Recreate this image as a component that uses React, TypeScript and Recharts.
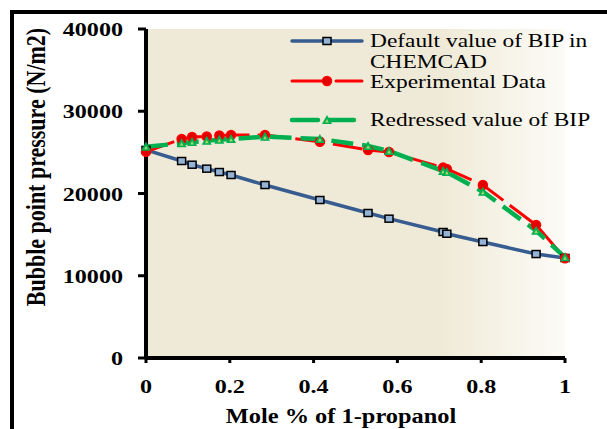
import React from "react";
import { ComposedChart, Line, XAxis, YAxis, CartesianGrid } from "recharts";

// mole fraction of 1-propanol
const molePct = [0, 0.085, 0.11, 0.145, 0.175, 0.203, 0.284, 0.415, 0.53, 0.58, 0.709, 0.718, 0.804, 0.931, 1.0];
// bubble point pressure (N/m2)
const defaultBip = [25300, 23950, 23500, 23020, 22610, 22250, 21030, 19210, 17630, 16940, 15320, 15110, 14100, 12640, 12160];
const experimental = [25080, 26630, 26870, 26930, 27050, 27110, 27110, 26300, 25290, 25050, 23150, 22980, 21030, 16170, 12120];
const redressedBip = [25690, 26100, 26260, 26420, 26540, 26630, 26910, 26630, 25780, 25170, 22740, 22600, 20220, 15480, 12240];

const xTicks = [0, 0.2, 0.4, 0.6, 0.8, 1];
const yTicks = [0, 10000, 20000, 30000, 40000];

const data = molePct.map((x, i) => ({
  x,
  def: defaultBip[i],
  exp: experimental[i],
  red: redressedBip[i],
}));

const FONT = "'Liberation Serif', 'Times New Roman', serif";
const SX = 1.27;

const BLUE = "#365C90";
const RED = "#FF0000";
const GREEN = "#00B050";

const Square = ({ cx, cy }: any) =>
  cx == null ? null : (
    <rect x={cx - 4} y={cy - 3.5} width={8} height={7} fill="#95B3D7" stroke="#000" strokeWidth={1.5} />
  );

const Circle = ({ cx, cy }: any) =>
  cx == null ? null : <circle cx={cx} cy={cy} r={4.5} fill="#E00000" stroke={RED} strokeWidth={1.5} />;

const Tri = ({ cx, cy }: any) =>
  cx == null ? null : (
    <g>
      <polygon points={`${cx},${cy - 5} ${cx + 5},${cy + 4} ${cx - 5},${cy + 4}`} fill={GREEN} />
      <polygon points={`${cx},${cy - 1} ${cx + 1.8},${cy + 2.5} ${cx - 1.8},${cy + 2.5}`} fill="#A6D96A" />
    </g>
  );

const YTick = ({ x, y, payload }: any) => (
  <text
    transform={`translate(${x},${y + 7}) scale(${SX},1)`}
    textAnchor="end"
    fontFamily={FONT}
    fontWeight="bold"
    fontSize={19}
    fill="#000"
  >
    {payload.value}
  </text>
);

const XTick = ({ x, y, payload }: any) => (
  <text
    transform={`translate(${x},${y + 22}) scale(${SX},1)`}
    textAnchor="middle"
    fontFamily={FONT}
    fontWeight="bold"
    fontSize={19}
    fill="#000"
  >
    {payload.value}
  </text>
);

const legendItems = [
  { label: ["Default value of BIP in", "CHEMCAD"], color: BLUE, dash: undefined, width: 3.5, marker: "square", y: 41, ty: 47 },
  { label: ["Experimental Data"], color: RED, dash: "35 9", width: 3, marker: "circle", y: 81, ty: 88 },
  { label: ["Redressed value of BIP"], color: GREEN, dash: "26 10", width: 4.5, marker: "tri", y: 120, ty: 126 },
];

function Overlay() {
  return (
    <svg width={607} height={429} style={{ position: "absolute", left: 0, top: 0, pointerEvents: "none" }}>
      <path d="M12,429 L12,12 L607,12" fill="none" stroke="#000" strokeWidth={4} />
      <text
        transform={`translate(45,167) rotate(-90) scale(1,${SX})`}
        textAnchor="middle"
        fontFamily={FONT}
        fontWeight="bold"
        fontSize={22}
        fill="#000"
      >
        Bubble point pressure (N/m2)
      </text>
      <text
        transform={`translate(341,423) scale(1.22,1)`}
        textAnchor="middle"
        fontFamily={FONT}
        fontWeight="bold"
        fontSize={20}
        fill="#000"
      >
        Mole % of 1-propanol
      </text>
      {legendItems.map((it) => (
        <g key={it.label[0]}>
          <line x1={292} x2={362} y1={it.y} y2={it.y} stroke={it.color} strokeWidth={it.width} strokeDasharray={it.dash} strokeLinecap="round" />
          {it.marker === "square" && <Square cx={327} cy={it.y} />}
          {it.marker === "circle" && <Circle cx={327} cy={it.y} />}
          {it.marker === "tri" && <Tri cx={327} cy={it.y} />}
          {it.label.map((l, i) => (
            <text
              key={l}
              transform={`translate(370,${it.ty + i * 21}) scale(1.3,1)`}
              fontFamily={FONT}
              fontSize={18}
              fill="#000"
            >
              {l}
            </text>
          ))}
        </g>
      ))}
    </svg>
  );
}

export default function App() {
  return (
    <div style={{ position: "absolute", left: 0, top: 0, width: 607, height: 429, background: "#fff" }}>
      <svg width={0} height={0} style={{ position: "absolute" }}>
        <defs>
          <linearGradient id="plotBg" x1="0" y1="0" x2="1" y2="0">
            <stop offset="0%" stopColor="#EFEAD7" />
            <stop offset="70%" stopColor="#EFEAD7" />
            <stop offset="100%" stopColor="#FCFBF6" />
          </linearGradient>
        </defs>
      </svg>
      <ComposedChart
        width={607}
        height={429}
        data={data}
        margin={{ top: 29, right: 42, bottom: 41, left: 0 }}
        style={{ position: "absolute", left: 0, top: 0 }}
      >
        <CartesianGrid horizontal={false} vertical={false} fill="url(#plotBg)" fillOpacity={1} />
        <XAxis
          dataKey="x"
          type="number"
          domain={[0, 1]}
          ticks={xTicks}
          height={30}
          axisLine={{ stroke: "#000", strokeWidth: 4 }}
          tickLine={{ stroke: "#000", strokeWidth: 3 }}
          tickSize={5}
          tickMargin={8}
          tick={<XTick />}
        />
        <YAxis
          type="number"
          domain={[0, 40000]}
          ticks={yTicks}
          width={146}
          axisLine={{ stroke: "#000", strokeWidth: 4 }}
          tickLine={{ stroke: "#000", strokeWidth: 3 }}
          tickSize={8}
          tickMargin={15}
          tick={<YTick />}
        />
        <Line dataKey="def" stroke={BLUE} strokeWidth={3.5} dot={<Square />} isAnimationActive={false} />
        <Line dataKey="exp" stroke={RED} strokeWidth={3} strokeDasharray="30 8" dot={<Circle />} isAnimationActive={false} />
        <Line dataKey="red" stroke={GREEN} strokeWidth={4.5} strokeDasharray="22 9" dot={<Tri />} isAnimationActive={false} />
      </ComposedChart>
      <Overlay />
    </div>
  );
}
